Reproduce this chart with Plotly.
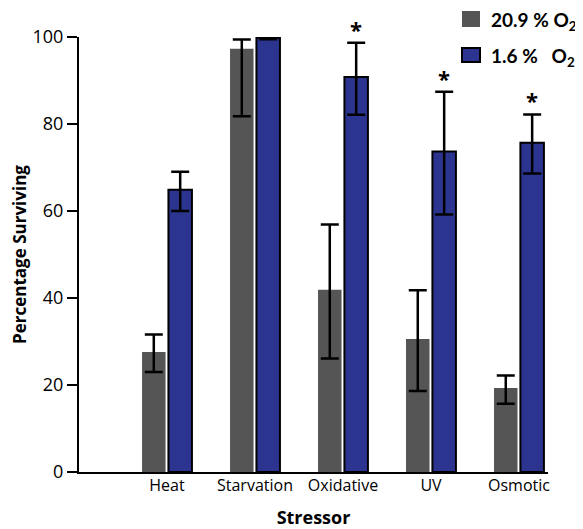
import plotly.graph_objects as go

categories = ["Heat", "Starvation", "Oxidative", "UV", "Osmotic"]
normoxia = [27.6, 97.3, 41.9, 30.6, 19.3]
normoxia_err_up = [4.0, 2.1, 15.0, 11.2, 2.9]
normoxia_err_down = [4.6, 15.5, 15.8, 12.0, 3.6]
hypoxia = [64.9, 99.8, 90.8, 73.7, 75.7]
hypoxia_err_up = [4.1, 0.3, 7.9, 13.7, 6.5]
hypoxia_err_down = [4.9, 0.3, 8.7, 14.5, 7.1]
significant = [False, False, True, True, True]

FONT = "Open Sans"
LFONT = "Lato"
GRAY = "#555555"
BLUE = "#2B3590"

# page body has an 8px default margin; size the figure to fill the rest
OFF = 8
W, H = 583 - OFF, 529 - OFF
ml, mt = 79 - OFF, 37 - OFF
mr, mb = 583 - 548, 529 - 472
pw, ph = W - ml - mr, H - mt - mb

def px_to_paper_x(px):
    return (px - OFF - ml) / pw

def px_to_paper_y(py):
    return (H + OFF - mb - py) / ph

fig = go.Figure()
fig.add_trace(go.Bar(
    x=categories, y=normoxia, name="20.9 % O<sub>2</sub>",
    marker=dict(color=GRAY, line=dict(width=0)),
    error_y=dict(type="data", symmetric=False, array=normoxia_err_up,
                 arrayminus=normoxia_err_down, color="black", thickness=2.5, width=9),
    cliponaxis=False, showlegend=False,
))
fig.add_trace(go.Bar(
    x=categories, y=hypoxia, name="1.6 % O<sub>2</sub>",
    marker=dict(color=BLUE, line=dict(width=2, color="black")),
    error_y=dict(type="data", symmetric=False, array=hypoxia_err_up,
                 arrayminus=hypoxia_err_down, color="black", thickness=2.5, width=9),
    cliponaxis=False, showlegend=False,
))

annotations = []
for i, (cat, sig) in enumerate(zip(categories, significant)):
    if sig:
        annotations.append(dict(
            x=i, y=hypoxia[i] + hypoxia_err_up[i], xref="x", yref="y",
            xshift=0.15 * 88, yshift=14, text="<b>*</b>", showarrow=False,
            font=dict(family=FONT, size=22, color="black"),
        ))

# Legend (drawn manually to match the larger swatches)
legend_items = [("20.9 % O<sub>2</sub>", GRAY, 0), ("1.6 %   O<sub>2</sub>", BLUE, 2)]
shapes = []
for (label, color, lw), (top, bot) in zip(legend_items, [(11, 27), (48, 62)]):
    shapes.append(dict(
        type="rect", xref="paper", yref="paper",
        x0=px_to_paper_x(462), x1=px_to_paper_x(480),
        y0=px_to_paper_y(bot), y1=px_to_paper_y(top),
        fillcolor=color, line=dict(width=lw, color="black"),
    ))
    annotations.append(dict(
        x=px_to_paper_x(489), y=px_to_paper_y((top + bot) / 2 + 2),
        xref="paper", yref="paper", xanchor="left", yanchor="middle",
        text="<b>" + label + "</b>", showarrow=False,
        font=dict(family=LFONT, size=19, color="black"),
    ))

fig.update_layout(
    width=W, height=H,
    margin=dict(l=ml, r=mr, t=mt, b=mb),
    paper_bgcolor="white", plot_bgcolor="white",
    barmode="group", bargap=0.4, bargroupgap=0.11,
    font=dict(family=FONT, size=16, color="black"),
    shapes=shapes, annotations=annotations,
    xaxis=dict(
        type="category", range=[-1.0, 4.33], showline=True, linecolor="black",
        linewidth=2, ticks="", showgrid=False, zeroline=False, automargin=False,
        tickfont=dict(family=FONT, size=16), ticklabelstandoff=-2,
        title=dict(text="<b>Stressor</b>", font=dict(family=FONT, size=18), standoff=18),
    ),
    yaxis=dict(
        range=[0, 100], showline=True, linecolor="black", linewidth=2,
        ticks="outside", ticklen=10, tickwidth=2, tickcolor="black",
        dtick=20, showgrid=False, zeroline=False, automargin=False,
        tickfont=dict(family=FONT, size=18),
        title=dict(text="<b>Percentage Surviving</b>", font=dict(family=FONT, size=17), standoff=8),
    ),
)

fig.write_html("out.html")
